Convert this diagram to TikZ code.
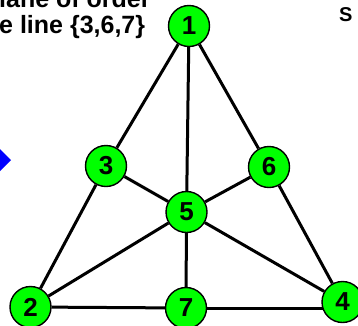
\documentclass[tikz,border=0pt]{standalone}
\usepackage{fontspec}
\setmainfont{Liberation Sans}
\usetikzlibrary{backgrounds}
\definecolor{ptgreen}{RGB}{0,255,0}
\definecolor{ptblue}{RGB}{0,0,255}
\tikzset{
  pt/.style={circle, draw=black, line width=1.4pt, fill=ptgreen,
    minimum size=41pt, inner sep=0pt,
    font=\bfseries\fontsize{26}{26}\selectfont},
  edge/.style={line width=3pt, black},
  caption/.style={anchor=base west, inner sep=0pt,
    font=\bfseries\fontsize{25}{30}\selectfont}
}
\begin{document}
\begin{tikzpicture}[x=1pt, y=-1pt]
  \useasboundingbox (0,0) rectangle (358,325);
  \clip (0,0) rectangle (358,325);

  % heading text running in from the left edge
  \node[caption] (capA) at (-1,7) {lane of order};
  \node[caption] (capB) at (-1,33) {e line \{3,6,7\}};
  \node[anchor=base west, inner sep=0pt,
        font=\bfseries\fontsize{20}{24}\selectfont] (capS) at (339,21) {S};

  % blue pointer at the left edge
  \fill[ptblue] (0,149) -- (11,160) -- (0,171) -- cycle;

  % the seven points
  \node[pt] (1) at (189,26)    {1};
  \node[pt] (3) at (106,166)   {3};
  \node[pt] (6) at (269,167)   {6};
  \node[pt] (5) at (186.5,212) {5};
  \node[pt] (2) at (30.5,307)  {2};
  \node[pt] (7) at (186,308)   {7};
  \node[pt] (4) at (342.5,302) {4};

  % the lines through the points, kept behind the points
  \begin{pgfonlayer}{background}
    \fill[white] (0,0) rectangle (358,325);
    \draw[edge] (1) -- (3);
    \draw[edge] (3) -- (2);
    \draw[edge] (1) -- (6);
    \draw[edge] (6) -- (4);
    \draw[edge] (2) -- (7);
    \draw[edge] (7) -- (7 -| 4);
    \draw[edge] (1) -- (5);
    \draw[edge] (5) -- (7);
    \draw[edge] (2) -- (5);
    \draw[edge] (5) -- (6);
    \draw[edge] (4) -- (5);
    \draw[edge] (5) -- (3);
  \end{pgfonlayer}
\end{tikzpicture}
\end{document}
